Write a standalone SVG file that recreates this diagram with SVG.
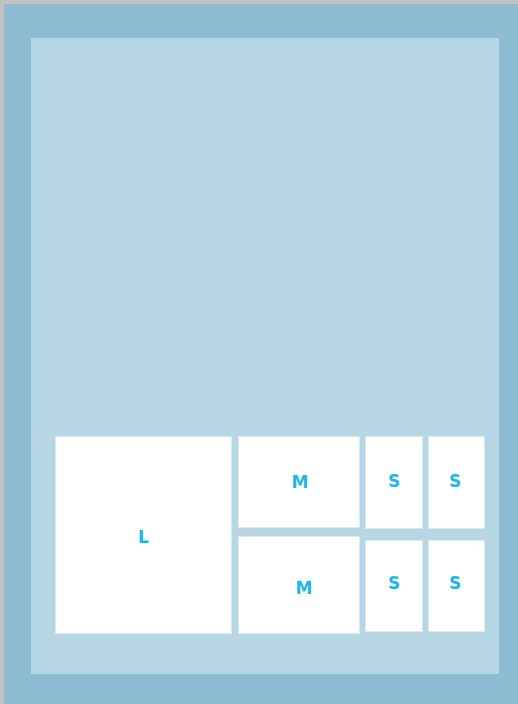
<svg xmlns="http://www.w3.org/2000/svg" width="518" height="704" viewBox="0 0 518 704">
<style>
.box{fill:#ffffff;stroke:#d6ebf2;stroke-width:1}
.lbl{font-family:"DejaVu Sans","Liberation Sans",sans-serif;font-weight:bold;font-size:17px;fill:#1ab8ea;text-anchor:middle}
</style>
<rect x="0" y="0" width="518" height="704" fill="#c2c2c2"/>
<rect x="4" y="4" width="514" height="700" fill="#8dbcd2"/>
<rect x="31" y="38" width="468" height="636" fill="#b5d6e2"/>
<g id="node-L"><rect class="box" x="55.5" y="436.5" width="176" height="197"/><text class="lbl" x="143.5" y="542.5">L</text></g>
<g id="node-M1"><rect class="box" x="238.5" y="436.5" width="121" height="91"/><text class="lbl" x="300" y="487.5">M</text></g>
<g id="node-M2"><rect class="box" x="238.5" y="536.5" width="121" height="97"/><text class="lbl" x="304" y="593.5">M</text></g>
<g id="node-S1"><rect class="box" x="365.5" y="436.5" width="57" height="92"/><text class="lbl" x="394" y="487">S</text></g>
<g id="node-S2"><rect class="box" x="428.5" y="436.5" width="56" height="92"/><text class="lbl" x="455" y="487">S</text></g>
<g id="node-S3"><rect class="box" x="365.5" y="540.5" width="57" height="91"/><text class="lbl" x="394" y="589">S</text></g>
<g id="node-S4"><rect class="box" x="428.5" y="540.5" width="56" height="91"/><text class="lbl" x="455" y="589">S</text></g>
<g id="connectors"></g>
</svg>
